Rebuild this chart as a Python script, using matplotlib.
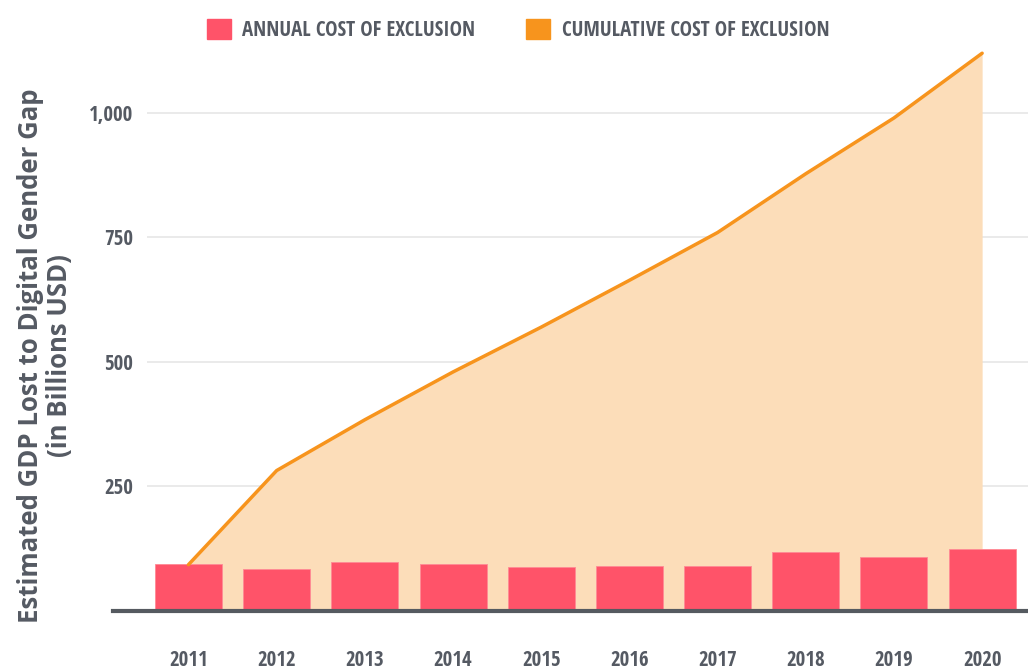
import numpy as np
import matplotlib
matplotlib.use("Agg")
import matplotlib.pyplot as plt
from matplotlib.patches import Patch

# values (billions USD)
years = ["2011", "2012", "2013", "2014", "2015", "2016", "2017", "2018", "2019", "2020"]
annual = [94, 84, 98, 94, 89, 91, 91, 119, 109, 124]
cumulative = [93, 282, 384, 480, 570, 664, 760, 878, 990, 1120]
yticks = [250, 500, 750, 1000]
ytick_labels = ["250", "500", "750", "1,000"]

pink = "#FF5369"
orange = "#F7941D"
fill_col = "#FCDDB9"
txt = "#555A63"
narrow = ["Open Sans Condensed", "Barlow Semi Condensed", "DejaVu Sans"]

W, H = 1028, 670
fig = plt.figure(figsize=(W / 100, H / 100), dpi=100)
ax = fig.add_axes([147 / W, (H - 611) / H, (1028 - 147) / W, (611 - 40) / H])

x = np.arange(len(years))
ax.fill_between(x, 0, cumulative, color=fill_col, lw=0, zorder=1)
ax.plot(x, cumulative, color=orange, lw=2.5, zorder=3, solid_capstyle="round")
ax.bar(x, annual, width=0.76, color=pink, edgecolor="#FF8A95", lw=0.6, zorder=2)

ax.set_xlim(-0.47, 9.52)
ax.set_ylim(0, (611 - 40) * 2.008)

for v in yticks:
    ax.axhline(v, color="#E6E6E6", lw=1.2, zorder=0)
ax.axhline(0, xmin=-34 / 881, xmax=1, color="#555A60", lw=3, zorder=4, clip_on=False)

for s in ax.spines.values():
    s.set_visible(False)
ax.set_xticks(x)
ax.set_xticklabels(years)
ax.set_yticks(yticks)
ax.set_yticklabels(ytick_labels)
ax.tick_params(length=0)
ax.tick_params(axis="x", pad=28)
ax.tick_params(axis="y", pad=10)
for lab in ax.get_xticklabels() + ax.get_yticklabels():
    lab.set_family(narrow)
    lab.set_fontweight("bold")
    lab.set_fontsize(15)
    lab.set_color(txt)

fig.text(45 / W, 1 - 356 / H, "Estimated GDP Lost to Digital Gender Gap\n(in Billions USD)",
         rotation=90, ha="center", va="center", fontsize=18.5, fontweight="bold",
         family=["Open Sans", "DejaVu Sans"], color=txt, linespacing=1.1)

handles = [Patch(facecolor=pink, edgecolor=pink), Patch(facecolor=orange, edgecolor=orange)]
leg = fig.legend(handles, ["ANNUAL COST OF EXCLUSION", "CUMULATIVE COST OF EXCLUSION"],
                 loc="center", bbox_to_anchor=(518 / W, 1 - 30 / H), ncol=2, frameon=False,
                 handlelength=1.15, handleheight=1.15, handletextpad=0.55, columnspacing=2.45,
                 prop={"family": narrow, "weight": "bold", "size": 15})
for t in leg.get_texts():
    t.set_color(txt)

fig.savefig("out.png", dpi=100)
